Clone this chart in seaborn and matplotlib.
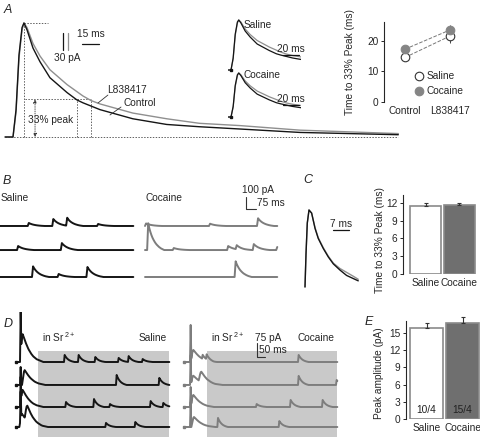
import numpy as np
import matplotlib
matplotlib.use('Agg')
import matplotlib.pyplot as plt
import seaborn as sns

W, H = 480, 437

# ---------------- data ----------------
# A: averaged EPSCs, time from onset (ms) vs % of peak
A_T_CTRL = [-7, 0, 2.7, 5.3, 8, 9.7, 12.4, 17.7, 23.9, 32.7, 47.8, 56.6, 61.9, 77, 106, 136, 165, 201, 254, 341]
A_Y_CTRL = [0, 0, 24, 72, 96, 100, 94, 78, 66, 52, 39, 32.5, 30, 24, 16, 11, 9, 7, 4, 2]
A_T_L83 = [-7, 0, 2.7, 5.3, 8, 9.7, 12.4, 17.7, 23.9, 32.7, 47.8, 61.9, 69, 77, 106, 136, 165, 201, 254, 341]
A_Y_L83 = [0, 0, 22, 69, 94, 100, 96, 82, 71, 59, 46, 36, 32, 29, 21, 16, 12, 10, 6, 3]
A_T33_CTRL, A_T33_L83 = 56.6, 69

# A right: time to 33% peak (ms)
A_COND = ['Control', 'L838417']
A_SAL_MEAN = [14.6, 21.6]
A_SAL_SEM = [0.9, 2.3]
A_COC_MEAN = [17.3, 23.6]
A_COC_SEM = [1.2, 1.6]

# B: mEPSC traces, events as (time ms, amplitude pA)
B_SAL_ROWS = [
    [(210, 24), (390, 55), (495, 63), (728, 16)],
    [(128, 32), (458, 55)],
    [(240, 84), (435, 24), (645, 79)],
]
B_COC_ROWS = [
    [(0, 20), (480, 18), (840, 61)],
    [(15, 212), (210, 16), (615, 32), (683, 32), (810, 47), (983, 24)],
    [(675, 124)],
]
B_SAL_DUR, B_COC_DUR = 1000, 990

# C: averaged EPSC (ms, % peak) and time to 33% peak bars
C_T = [0, 0.44, 1.0, 1.75, 2.9, 4.4, 5.8, 8.0, 10.2, 12.4, 15.3, 18.2, 21.1, 23.3]
C_Y_SAL = [0, 43, 83, 100, 96, 76, 63, 50, 39, 30, 22, 15, 11, 8]
C_Y_COC = [0, 43, 83, 100, 96, 77, 64, 51, 40, 31, 24, 19, 14, 10]
GROUPS = ['Saline', 'Cocaine']
C_MEAN = [11.5, 11.6]
C_SEM = [0.45, 0.4]

# D: Sr2+ asynchronous events, (kind, time ms, amplitude pA)
D_SAL_ROWS = [
    [('spike', 24, 227), ('evoked', 22, 150), ('mini', 288, 38), ('mini', 372, 38), ('mini', 474, 27),
     ('mini', 612, 22), ('mini', 672, 32), ('mini', 756, 16)],
    [('spike', 24, 97), ('evoked', 36, 80), ('mini', 600, 54), ('mini', 858, 38)],
    [('spike', 24, 135), ('evoked', 26, 92), ('mini', 294, 27), ('mini', 462, 43), ('mini', 558, 16),
     ('mini', 804, 32), ('mini', 882, 22)],
    [('spike', 24, 146), ('evoked', 20, 70), ('evoked', 52, 80), ('mini', 534, 22), ('mini', 714, 27)],
]
D_COC_ROWS = [
    [('spike', 36, 200), ('evoked', 40, 65), ('mini', 108, 22), ('mini', 132, 27), ('mini', 684, 38)],
    [('spike', 36, 160), ('evoked', 40, 50), ('evoked', 90, 55), ('mini', 684, 49), ('mini', 912, 27)],
    [('spike', 36, 108), ('evoked', 40, 65), ('mini', 432, 16), ('mini', 636, 38), ('mini', 828, 38)],
    [('spike', 36, 135), ('evoked', 44, 54), ('mini', 198, 49), ('mini', 570, 32)],
]
D_DUR = 918

# E: peak amplitude bars
E_MEAN = [15.9, 16.8]
E_SEM = [0.8, 1.0]
E_N = ['10/4', '15/4']

# event shapes, one value per sample step
KERNELS = {
    'mini': [0, 1.0, 0.82, 0.68, 0.56, 0.46, 0.38, 0.31, 0.25, 0.2, 0.16, 0.12, 0.09, 0.06, 0.04, 0.02, 0],
    'evoked': [0, 0.3, 0.65, 0.9, 1.0, 0.94, 0.87, 0.8, 0.73, 0.67, 0.61, 0.56, 0.5, 0.45, 0.41, 0.37,
               0.33, 0.29, 0.26, 0.23, 0.2, 0.18, 0.16, 0.14, 0.12, 0.1, 0.09, 0.08, 0.07, 0.06, 0.05,
               0.04, 0.03, 0.02, 0.01, 0],
    'spike': [0, 1.0, 0],
}

BLACK = '#151515'
GRAY = '#7d7d7d'
DASH = (0, (1.6, 1.6))

sns.set_style('ticks')
plt.rcParams['font.family'] = ['Liberation Sans', 'DejaVu Sans']
plt.rcParams['font.size'] = 7.3
plt.rcParams['mathtext.default'] = 'regular'
plt.rcParams['axes.linewidth'] = 0.8

fig = plt.figure(figsize=(W / 100, H / 100), dpi=100)


def px_axes(x0, y0, x1, y1):
    return fig.add_axes([x0 / W, 1 - y1 / H, (x1 - x0) / W, (y1 - y0) / H])


def data_axes(box, origin, sx, sy):
    # sx, sy: pixels per data unit; origin: pixel of data (0, 0)
    ax = px_axes(*box)
    x0, y0, x1, y1 = box
    ax.set_xlim((x0 - origin[0]) / sx, (x1 - origin[0]) / sx)
    ax.set_ylim((origin[1] - y1) / sy, (origin[1] - y0) / sy)
    ax.axis('off')
    return ax


def ftext(x, y, s, **kw):
    kw.setdefault('va', 'center')
    fig.text(x / W, 1 - y / H, s, **kw)


def build_trace(duration, step, events):
    n = int(round(duration / step)) + 1
    y = np.zeros(n)
    for kind, t0, amp in events:
        i0 = int(round(t0 / step))
        k = np.asarray(KERNELS[kind])
        seg = y[i0:i0 + len(k)]
        seg += amp * k[:len(seg)]
    return np.arange(n) * step, y


def trace(ax, t, y, color, lw=1.1):
    sns.lineplot(x=t, y=y, ax=ax, color=color, lw=lw, estimator=None, sort=False)


# ---------------- A: main traces ----------------
ax = data_axes((0, 10, 400, 145), (13, 137), 1.13, 1.14)
dash_kw = dict(ls=DASH, color='#555', lw=0.65)
ax.plot([-7, 341], [0, 0], **dash_kw)
ax.plot([9.7, 31], [100, 100], **dash_kw)
ax.plot([9.7, 9.7], [0, 100], **dash_kw)
ax.plot([10.5, A_T33_L83], [33, 33], **dash_kw)
for t33 in (A_T33_CTRL, A_T33_L83):
    ax.plot([t33, t33], [0, 33], **dash_kw)
ax.annotate('', xy=(19.5, 33), xytext=(19.5, 0),
            arrowprops=dict(arrowstyle='<|-|>', lw=0.6, ls=':', color='#333',
                            mutation_scale=5, shrinkA=0, shrinkB=0))
trace(ax, A_T_L83, A_Y_L83, '#8f8f8f', 1.0)
trace(ax, A_T_CTRL, A_Y_CTRL, BLACK, 1.0)
ax.text(33, 15, '33% peak', ha='center', va='center')
ax.text(101, 41, 'L838417', ha='center', va='center')
ax.text(112, 29.5, 'Control', ha='center', va='center')
ax.plot([84, 75.2], [36.8, 29.8], color='#333', lw=0.6)
ax.plot([95.6, 85.8], [26.3, 19.3], color='#333', lw=0.6)
ax.plot([44.2, 44.2], [76, 91], color=BLACK, lw=0.9)
ax.plot([48.7, 48.7], [76, 91], color='#8f8f8f', lw=0.9)
ax.text(47.8, 69, '30 pA', ha='center', va='center')
ax.plot([61, 76], [82, 82], color=BLACK, lw=0.9)
ax.text(68.5, 90, '15 ms', ha='center', va='center')

# A insets
for box, origin, sy, label, ly, bar_y in [((228, 14, 301, 74), (231, 70), 0.5, 'Saline', 25, 30),
                                          ((228, 66, 301, 121), (231, 117), 0.44, 'Cocaine', 75, 27)]:
    ax = data_axes(box, origin, 0.8, sy)
    trace(ax, A_T_L83, A_Y_L83, '#8f8f8f', 0.9)
    trace(ax, A_T_CTRL, A_Y_CTRL, BLACK, 0.9)
    ax.plot([0], [0], 's', color=BLACK, ms=1.5)
    ax.plot([65, 85], [bar_y, bar_y], color=BLACK, lw=0.9, clip_on=False)
    ftext(244, ly, label)
    ftext(291, ly + 24, '20 ms', ha='center')

# A right: time to 33% peak
ax = px_axes(384, 22, 470, 102)
xs = [0, 1]
sns.lineplot(x=xs, y=A_SAL_MEAN, ax=ax, color='#777', lw=0.7, linestyle='--')
sns.lineplot(x=xs, y=A_COC_MEAN, ax=ax, color='#777', lw=0.7, linestyle='--')
ax.errorbar(xs, A_SAL_MEAN, yerr=A_SAL_SEM, fmt='none', ecolor='#444', elinewidth=0.7)
ax.errorbar(xs, A_COC_MEAN, yerr=A_COC_SEM, fmt='none', ecolor='#444', elinewidth=0.7)
sns.scatterplot(x=xs, y=A_SAL_MEAN, ax=ax, color='white', edgecolor='#333', linewidth=0.8,
                s=38, label='Saline', zorder=3)
sns.scatterplot(x=xs, y=A_COC_MEAN, ax=ax, color='#858585', edgecolor='#858585', linewidth=0.8,
                s=38, label='Cocaine', zorder=4)
ax.set_xlim(-0.467, 1.444)
ax.set_ylim(0, 26.2)
ax.set_yticks([0, 10, 20])
ax.set_xticks(xs)
ax.set_xticklabels(A_COND)
ax.tick_params(axis='x', length=0, pad=3)
ax.tick_params(axis='y', length=2.5, width=0.7, pad=1.5)
ax.set_ylabel('Time to 33% Peak (ms)')
ax.yaxis.set_label_coords((355 - 384) / 86, 0.5)
ax.legend(loc='upper left', bbox_to_anchor=((413 - 384) / 86, (102 - 71) / 80), frameon=False,
          handletextpad=0.1, labelspacing=0.5, borderpad=0, borderaxespad=0, handlelength=1.2)
sns.despine(ax=ax, bottom=True)

# ---------------- B: mEPSC traces ----------------
ftext(1, 198.5, 'Saline')
ftext(145, 198.5, 'Cocaine')
offsets_b = [403, 213, 0]
ax = data_axes((0, 180, 140, 290), (0, 277), 1 / 7.5, 1 / 7.9)
for evs, off in zip(B_SAL_ROWS, offsets_b):
    t, y = build_trace(B_SAL_DUR, 8, [('mini', t0, a) for t0, a in evs])
    trace(ax, t, y + off, BLACK, 1.4)
ax = data_axes((140, 180, 285, 290), (145, 277), 1 / 7.5, 1 / 7.9)
for evs, off in zip(B_COC_ROWS, offsets_b):
    t, y = build_trace(B_COC_DUR, 8, [('mini', t0, a) for t0, a in evs])
    trace(ax, t, y + off, GRAY, 1.4)
ax.plot([754, 754, 829], [635, 535, 535], color='#333', lw=0.8)
ax.text(848, 687, '100 pA', ha='center', va='center')
ax.text(838, 585, '75 ms', ha='left', va='center')

# ---------------- C ----------------
ax = data_axes((300, 200, 366, 292), (305, 287), 16 / 7, 0.77)
trace(ax, C_T, C_Y_COC, '#8f8f8f', 1.0)
trace(ax, C_T, C_Y_SAL, BLACK, 1.0)
ax.plot([12.2, 19.2], [74, 74], color=BLACK, lw=0.9)
ax.text(15.7, 82, '7 ms', ha='center', va='center')


def bar_panel(box, xlim, ylim, means, sems, yticks, ylabel, label_xy, width):
    ax = px_axes(*box)
    sns.barplot(x=GROUPS, y=means, hue=GROUPS, palette=['white', '#6f6f6f'], legend=False,
                edgecolor='#8a8a8a', linewidth=1.2, width=width, ax=ax, zorder=2)
    ax.errorbar([0, 1], means, yerr=[[0, 0], sems], fmt='none', ecolor='#333', elinewidth=0.8,
                capsize=1.2, capthick=0.8, clip_on=False, zorder=3)
    ax.set_xlim(*xlim)
    ax.set_ylim(*ylim)
    ax.set_yticks(yticks)
    ax.tick_params(axis='x', length=0, pad=3)
    ax.tick_params(axis='y', length=2.5, width=0.7, pad=1.5)
    ax.set_ylabel(ylabel)
    ax.yaxis.set_label_coords(*label_xy)
    sns.despine(ax=ax, bottom=True)
    return ax


bar_panel((403, 195, 476, 274), (-0.67, 1.5), (0, 13.35), C_MEAN, C_SEM, [0, 3, 6, 9, 12],
          'Time to 33% Peak (ms)', ((385 - 403) / 73, 0.43), 0.93)

# ---------------- D: Sr2+ traces ----------------
offsets_d = [351, 227, 108, 0]
for rows, box, origin, color, shade in [
        (D_SAL_ROWS, (8, 312, 172, 437), (16, 427), BLACK, 132),
        (D_COC_ROWS, (178, 312, 340, 437), (184, 427), GRAY, 138)]:
    ax = data_axes(box, origin, 1 / 6, 1 / 5.4)
    ax.fill_between([shade, 918], -60, 410, color='#c9c9c9', lw=0, zorder=0)
    for evs, off in zip(rows, offsets_d):
        t, y = build_trace(D_DUR, 4, evs)
        trace(ax, t, y + off, color, 1.4)
        ax.plot([0], [off], 's', color=color, ms=2)
ax.plot([438, 438, 488], [453, 378, 378], color='#333', lw=0.8)
ax.text(426, 481, '75 pA', ha='left', va='center')
ax.text(452, 416, '50 ms', ha='left', va='center')
ftext(42, 337, r'in Sr$^{\,2+}$')
ftext(167, 338, 'Saline', ha='right')
ftext(211, 337, r'in Sr$^{\,2+}$')
ftext(335, 338, 'Cocaine', ha='right')

# ---------------- E ----------------
ax = bar_panel((406, 321, 480, 419), (-0.57, 1.486), (0, 17.1), E_MEAN, E_SEM,
               [0, 3, 6, 9, 12, 15], 'Peak amplitude (pA)', ((384 - 406) / 74, 0.47), 0.92)
for i, s in enumerate(E_N):
    ax.text(i, 1.6, s, ha='center', va='center', color='#222', zorder=4)

# panel letters
for letter, x, y in [('A', 4, 10), ('B', 3, 181), ('C', 303, 180), ('D', 4, 324), ('E', 365, 322)]:
    ftext(x, y, letter, fontsize=9, style='italic')

fig.savefig('out.png', dpi=100)
